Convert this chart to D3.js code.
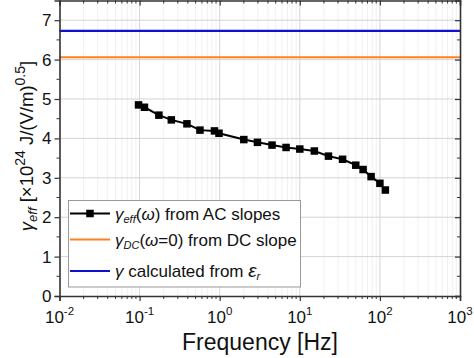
<!DOCTYPE html>
<html><head><meta charset="utf-8">
<script src="https://cdn.jsdelivr.net/npm/d3@7"></script>
<style>
html,body{margin:0;padding:0;background:#fff;}
svg{display:block;font-family:"Liberation Sans",Arial,sans-serif;}
</style></head>
<body><svg id="c" width="474" height="358"></svg>
<script>
const freq = [0.097,0.115,0.174,0.249,0.39,0.567,0.86,0.98,2.0,2.96,4.5,6.74,10,15.2,22.8,34.2,50,61.7,77.6,100,117];
const gammaEff = [4.85,4.79,4.59,4.47,4.37,4.21,4.19,4.13,3.97,3.90,3.83,3.77,3.73,3.68,3.55,3.47,3.32,3.21,3.03,2.86,2.69];
const gammaDC = 6.06;
const gammaEps = 6.73;
const xTickExps = [-2,-1,0,1,2,3];
const yTicks = [0,1,2,3,4,5,6,7];

const svg = d3.select("#c");
const L=59.5, R=460, T=0.5, B=296;
const x = d3.scaleLog().domain([0.01,1000]).range([L,R]);
const y = d3.scaleLinear().domain([0,7.5]).range([B,T]);

// minor vertical grid
const minorX = [];
for (let e=-2;e<3;e++) for (let k=2;k<10;k++) minorX.push(k*Math.pow(10,e));
svg.append("g").selectAll("line").data(minorX).join("line")
  .attr("x1",d=>x(d)).attr("x2",d=>x(d)).attr("y1",T).attr("y2",B)
  .attr("stroke","#f0f0f0").attr("stroke-width",1);
// major grid
svg.append("g").selectAll("line").data(xTickExps.slice(1,-1)).join("line")
  .attr("x1",d=>x(Math.pow(10,d))).attr("x2",d=>x(Math.pow(10,d))).attr("y1",T).attr("y2",B)
  .attr("stroke","#d4d4d4").attr("stroke-width",1);
svg.append("g").selectAll("line").data(yTicks.slice(1)).join("line")
  .attr("x1",L).attr("x2",R).attr("y1",d=>y(d)).attr("y2",d=>y(d))
  .attr("stroke","#d4d4d4").attr("stroke-width",1);

// horizontal reference lines
svg.append("line").attr("x1",L).attr("x2",R).attr("y1",y(gammaEps)).attr("y2",y(gammaEps))
  .attr("stroke","#1010d0").attr("stroke-width",2.2);
svg.append("line").attr("x1",L).attr("x2",R).attr("y1",y(gammaDC)).attr("y2",y(gammaDC))
  .attr("stroke","#ff8020").attr("stroke-width",2.2);

// data
const pts = freq.map((f,i)=>[f,gammaEff[i]]);
svg.append("path").datum(pts)
  .attr("d",d3.line().x(d=>x(d[0])).y(d=>y(d[1])))
  .attr("fill","none").attr("stroke","#000").attr("stroke-width",2);
const ms=7.5;
svg.append("g").selectAll("rect").data(pts).join("rect")
  .attr("x",d=>x(d[0])-ms/2).attr("y",d=>y(d[1])-ms/2).attr("width",ms).attr("height",ms)
  .attr("fill","#000");

// axes
const ax = "#333";
const gB = svg.append("g").attr("transform",`translate(0,${B})`)
  .call(d3.axisBottom(x).tickValues(xTickExps.map(e=>Math.pow(10,e))).tickSize(5).tickFormat(""));
gB.append("g").selectAll("line").data(minorX).join("line")
  .attr("x1",d=>x(d)).attr("x2",d=>x(d)).attr("y1",0).attr("y2",3).attr("stroke",ax);
const gT = svg.append("g").attr("transform",`translate(0,${T})`)
  .call(d3.axisBottom(x).tickValues(xTickExps.map(e=>Math.pow(10,e))).tickSize(5).tickFormat(""));
gT.append("g").selectAll("line").data(minorX).join("line")
  .attr("x1",d=>x(d)).attr("x2",d=>x(d)).attr("y1",0).attr("y2",3).attr("stroke",ax);
const minorY = d3.range(0.5,7.5,1);
const gL = svg.append("g").attr("transform",`translate(${L},0)`)
  .call(d3.axisLeft(y).tickValues(yTicks).tickSize(5).tickFormat(""));
gL.append("g").selectAll("line").data(minorY).join("line")
  .attr("x1",-3).attr("x2",0).attr("y1",d=>y(d)).attr("y2",d=>y(d)).attr("stroke",ax);
const gR = svg.append("g").attr("transform",`translate(${R},0)`)
  .call(d3.axisLeft(y).tickValues(yTicks).tickSize(5).tickFormat(""));
gR.append("g").selectAll("line").data(minorY).join("line")
  .attr("x1",-3).attr("x2",0).attr("y1",d=>y(d)).attr("y2",d=>y(d)).attr("stroke",ax);
[gB,gT,gL,gR].forEach(g=>{g.select(".domain").attr("stroke",ax).attr("stroke-width",1.6);
  g.selectAll(".tick line").attr("stroke",ax).attr("stroke-width",1.2);});

// tick labels
svg.append("g").selectAll("text").data(yTicks).join("text")
  .attr("x",L-8).attr("y",d=>y(d)+6).attr("text-anchor","end")
  .attr("font-size",17).attr("fill","#111").text(d=>d);
const xl = svg.append("g").selectAll("text").data(xTickExps).join("text")
  .attr("x",d=>x(Math.pow(10,d))).attr("y",323).attr("text-anchor","middle")
  .attr("font-size",17).attr("fill","#111");
xl.append("tspan").text("10");
xl.append("tspan").attr("font-size",11.5).attr("dy",-8).text(d=>d<0?"-"+(-d):d);

// x title
svg.append("text").attr("x",260).attr("y",350).attr("text-anchor","middle")
  .attr("font-size",23).attr("fill","#111").text("Frequency [Hz]");

// y title
const yt = svg.append("text").attr("transform","translate(33,146) rotate(-90)")
  .attr("text-anchor","middle").attr("font-size",18.5).attr("fill","#111");
yt.append("tspan").attr("font-style","italic").text("γ");
yt.append("tspan").attr("font-style","italic").attr("font-size",13).attr("dy",4).text("eff");
yt.append("tspan").attr("dy",-4).text(" [×10");
yt.append("tspan").attr("font-size",14).attr("dy",-8).text("24");
yt.append("tspan").attr("dy",8).text(" J/(V/m)");
yt.append("tspan").attr("font-size",14).attr("dy",-8).text("0.5");
yt.append("tspan").attr("dy",8).text("]");

// legend
const lg = svg.append("g");
lg.append("rect").attr("x",68.5).attr("y",200.5).attr("width",232).attr("height",86.5)
  .attr("fill","#fff").attr("stroke","#999").attr("stroke-width",1);
const rows = [213.5, 239.5, 271];
lg.append("line").attr("x1",70).attr("x2",110).attr("y1",rows[0]).attr("y2",rows[0]).attr("stroke","#000").attr("stroke-width",2);
lg.append("rect").attr("x",90-ms/2).attr("y",rows[0]-ms/2).attr("width",ms).attr("height",ms).attr("fill","#000");
lg.append("line").attr("x1",70).attr("x2",110).attr("y1",rows[1]).attr("y2",rows[1]).attr("stroke","#ff8020").attr("stroke-width",2.2);
lg.append("line").attr("x1",70).attr("x2",110).attr("y1",rows[2]).attr("y2",rows[2]).attr("stroke","#1010d0").attr("stroke-width",2.2);
const fs=17;
const t1 = lg.append("text").attr("x",115).attr("y",rows[0]+6).attr("font-size",fs).attr("fill","#111");
t1.append("tspan").attr("font-style","italic").text("γ");
t1.append("tspan").attr("font-style","italic").attr("font-size",11).attr("dy",3).text("eff");
t1.append("tspan").attr("dy",-3).text("(");
t1.append("tspan").attr("font-style","italic").text("ω");
t1.append("tspan").text(") from AC slopes");
const t2 = lg.append("text").attr("x",115).attr("y",rows[1]+6).attr("font-size",fs).attr("fill","#111");
t2.append("tspan").attr("font-style","italic").text("γ");
t2.append("tspan").attr("font-style","italic").attr("font-size",11).attr("dy",3).text("DC");
t2.append("tspan").attr("dy",-3).text("(");
t2.append("tspan").attr("font-style","italic").text("ω");
t2.append("tspan").text("=0) from DC slope");
const t3 = lg.append("text").attr("x",115).attr("y",rows[2]+6).attr("font-size",fs).attr("fill","#111");
t3.append("tspan").attr("font-style","italic").text("γ");
t3.append("tspan").text("  calculated from ");
t3.append("tspan").attr("font-style","italic").attr("font-size",19).text("ε");
t3.append("tspan").attr("font-style","italic").attr("font-size",11).attr("dy",3).text("r");
</script></body></html>
